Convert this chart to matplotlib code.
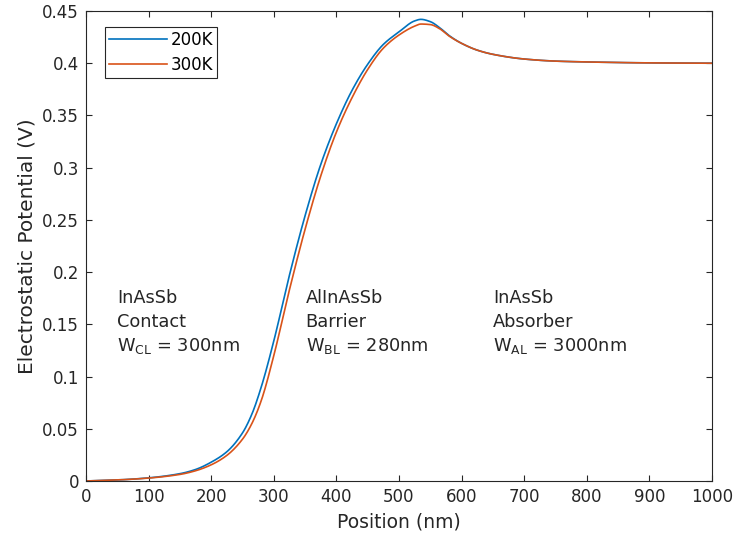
import numpy as np
import matplotlib
matplotlib.use("Agg")
import matplotlib.pyplot as plt

plt.rcParams['font.family'] = ['DejaVu Sans']
plt.rcParams['mathtext.fontset'] = 'dejavusans'

# position (nm) and electrostatic potential (V)
position = [0, 50, 100, 150, 175, 200, 225, 250, 265, 280, 300, 325, 350, 375, 400, 425,
            450, 475, 500, 525, 535, 550, 565, 580, 600, 625, 650, 700, 750, 800, 900, 1000]
pot_200K = [0, 0.001, 0.003, 0.007, 0.011, 0.018, 0.028, 0.046, 0.064, 0.090, 0.134,
            0.197, 0.254, 0.303, 0.342, 0.374, 0.399, 0.418, 0.430, 0.4405, 0.442,
            0.4398, 0.434, 0.4265, 0.419, 0.4125, 0.4085, 0.404, 0.402, 0.4012, 0.4003, 0.400]
pot_300K = [0, 0.001, 0.0028, 0.0063, 0.0098, 0.0155, 0.0245, 0.040, 0.055, 0.077,
            0.120, 0.183, 0.241, 0.292, 0.334, 0.367, 0.394, 0.4144, 0.427, 0.4355,
            0.4375, 0.437, 0.433, 0.426, 0.419, 0.4125, 0.4085, 0.404, 0.402, 0.4012,
            0.4003, 0.400]

labels = ["200K", "300K"]
regions = [
    (49.5, ["InAsSb", "Contact", r"W$_{\mathregular{CL}}$ = 300nm"]),
    (351, ["AlInAsSb", "Barrier", r"W$_{\mathregular{BL}}$ = 280nm"]),
    (650, ["InAsSb", "Absorber", r"W$_{\mathregular{AL}}$ = 3000nm"]),
]

xs = np.linspace(0, 1000, 1001)

def smooth(x, y):
    # monotone cubic interpolation between the read points
    x = np.asarray(x, float)
    y = np.asarray(y, float)
    h = np.diff(x)
    d = np.diff(y) / h
    m = np.zeros_like(y)
    for k in range(1, len(x) - 1):
        if d[k - 1] * d[k] > 0:
            w1 = 2 * h[k] + h[k - 1]
            w2 = h[k] + 2 * h[k - 1]
            m[k] = (w1 + w2) / (w1 / d[k - 1] + w2 / d[k])
    m[0] = d[0]
    m[-1] = d[-1]
    idx = np.clip(np.searchsorted(x, xs) - 1, 0, len(x) - 2)
    t = (xs - x[idx]) / h[idx]
    h00 = 2*t**3 - 3*t**2 + 1
    h10 = t**3 - 2*t**2 + t
    h01 = -2*t**3 + 3*t**2
    h11 = t**3 - t**2
    return h00*y[idx] + h10*h[idx]*m[idx] + h01*y[idx+1] + h11*h[idx]*m[idx+1]

fig = plt.figure(figsize=(7.36, 5.44), dpi=100)
ax = fig.add_axes([0.1168, 0.1158, 0.8506, 0.864])

ax.plot(xs, smooth(position, pot_200K), color='#0072BD', lw=1.2, label=labels[0])
ax.plot(xs, smooth(position, pot_300K), color='#D95319', lw=1.2, label=labels[1])

for x0, lines in regions:
    for i, s in enumerate(lines):
        ax.text(x0, 0.170 - i * 0.023, s, fontsize=12.8, color='#262626', va='baseline')

ax.set_xlim(0, 1000)
ax.set_ylim(0, 0.45)
ax.set_xticks(np.arange(0, 1001, 100))
ax.set_yticks(np.arange(0, 0.451, 0.05))
ax.set_yticklabels(['0', '0.05', '0.1', '0.15', '0.2', '0.25', '0.3', '0.35', '0.4', '0.45'])
ax.tick_params(direction='in', top=True, right=True, labelsize=12, colors='#262626',
               length=4, width=0.8, pad=5)
for sp in ax.spines.values():
    sp.set_color('#262626')
    sp.set_linewidth(0.8)
ax.set_xlabel("Position (nm)", fontsize=13.5, color='#262626', labelpad=5)
ax.set_ylabel("Electrostatic Potential (V)", fontsize=14.5, color='#262626', labelpad=4)

leg = ax.legend(loc='upper left', bbox_to_anchor=(0.030, 0.966), borderaxespad=0,
                fontsize=12, fancybox=False, edgecolor='#262626', framealpha=1,
                handlelength=3.5, handletextpad=0.2, borderpad=0.25, labelspacing=0.4)
leg.get_frame().set_linewidth(0.8)

fig.savefig("out.png", dpi=100)
